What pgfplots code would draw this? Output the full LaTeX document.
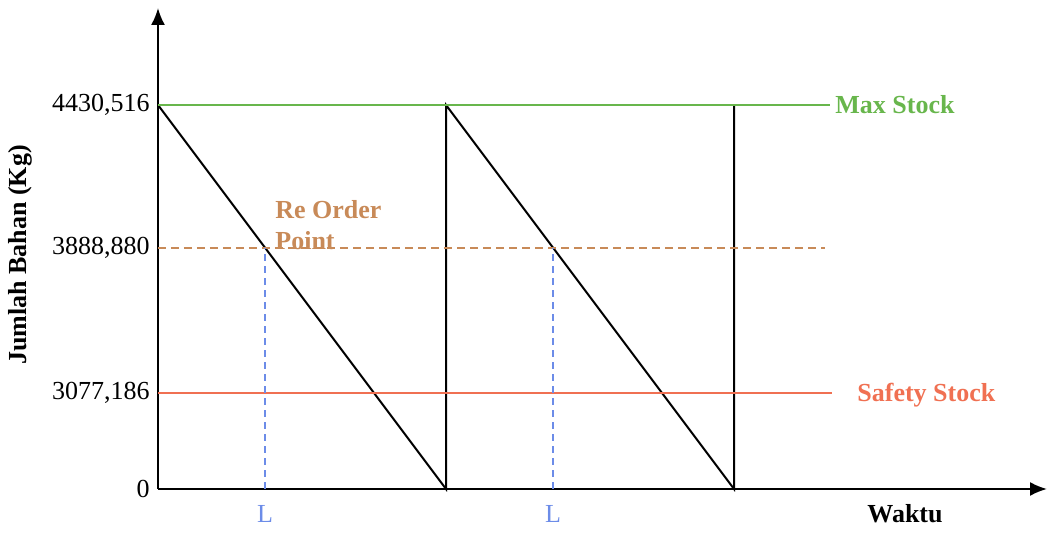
\documentclass[border=0pt]{standalone}
\usepackage{fontspec}
\setmainfont{Liberation Serif}
\usepackage{pgfplots}
\pgfplotsset{compat=1.18}
\usetikzlibrary{arrows.meta}
\definecolor{maxg}{RGB}{104,182,76}
\definecolor{ropc}{RGB}{200,138,88}
\definecolor{ssc}{RGB}{240,112,82}
\definecolor{lblue}{RGB}{108,140,232}
\begin{document}
\begin{tikzpicture}
\begin{axis}[
  x=0.5pt, y=0.5pt, scale only axis,
  xmin=0, xmax=889, ymin=0, ymax=481,
  axis lines=left,
  axis line style={line width=1pt, -{Latex[length=8.5pt,width=7pt]}},
  ytick={0,96,241,384},
  yticklabels={0,{3077,186},{3888,880},{4430,516}},
  yticklabel style={font=\fontsize{13}{15}\selectfont, inner sep=0pt, xshift=-4pt},
  xtick={107,395}, xticklabels={L,L},
  xticklabel style={font=\fontsize{13}{15}\selectfont, text=lblue, anchor=base, yshift=-17pt},
  major tick length=0pt,
  clip=false,
]
% stock level (sawtooth)
\addplot[black, line width=1pt] coordinates {(0,384) (288,0) (288,384) (576,0) (576,384)};
% max stock
\addplot[maxg, line width=0.8pt] coordinates {(0,384) (672,384)};
% re order point
\addplot[ropc, line width=0.7pt, dash pattern=on 4pt off 2.5pt] coordinates {(0,241) (667,241)};
% safety stock
\addplot[ssc, line width=0.8pt] coordinates {(0,96) (674,96)};
% lead time lines
\addplot[lblue, line width=0.7pt, dash pattern=on 3.5pt off 2.5pt] coordinates {(107,0) (107,241)};
\addplot[lblue, line width=0.7pt, dash pattern=on 3.5pt off 2.5pt] coordinates {(395,0) (395,241)};

\node[anchor=west, inner sep=0pt, text=maxg, font=\bfseries\fontsize{13}{15}\selectfont] at (axis cs:677,384) {Max Stock};
\node[anchor=west, inner sep=0pt, text=ssc, font=\bfseries\fontsize{13}{15}\selectfont] at (axis cs:699,94) {Safety Stock};
\node[anchor=north west, inner sep=0pt, align=left, text=ropc, font=\bfseries\fontsize{13}{15.5}\selectfont] at (axis cs:117,289) {Re Order\\Point};
\node[anchor=base, inner sep=0pt, font=\bfseries\fontsize{13}{15}\selectfont] at (axis cs:747,-34) {Waktu};
\node[rotate=90, inner sep=0pt, font=\bfseries\fontsize{13}{15}\selectfont] at (axis cs:-138,234) {Jumlah Bahan (Kg)};
\coordinate (bl) at (axis cs:-158,-44);
\coordinate (tr) at (axis cs:890,489);
\end{axis}
\pgfresetboundingbox
\path (bl) rectangle (tr);
\end{tikzpicture}
\end{document}
